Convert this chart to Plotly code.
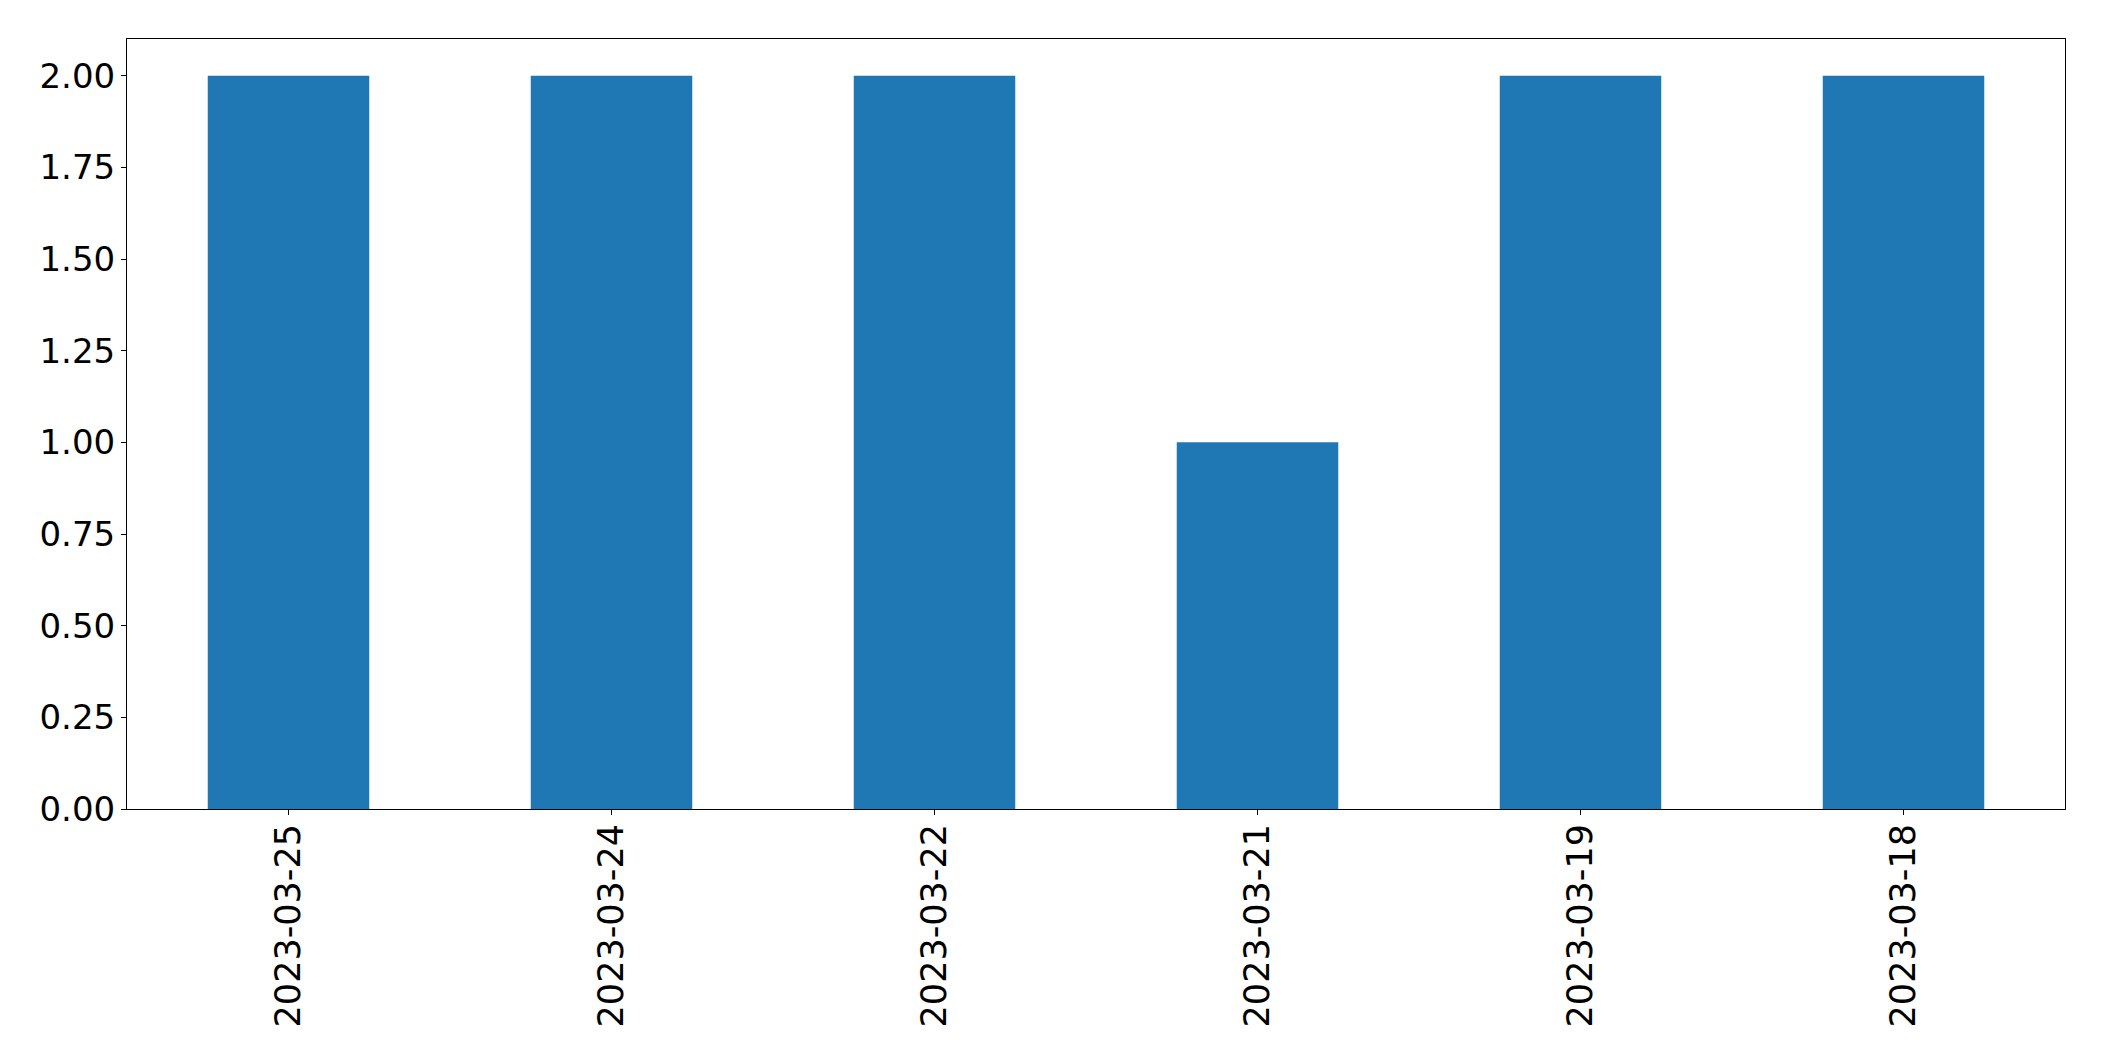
import plotly.graph_objects as go

dates = ["2023-03-25", "2023-03-24", "2023-03-22", "2023-03-21", "2023-03-19", "2023-03-18"]
counts = [2, 2, 2, 1, 2, 2]
y_ticks = [0, 0.25, 0.5, 0.75, 1.0, 1.25, 1.5, 1.75, 2.0]

fig = go.Figure(go.Bar(x=dates, y=counts, marker_color="#1f77b4", marker_line_width=0))

# page body has an 8px margin; compensate so the plot area lands at
# x 127..2065, y 39..809 in the window
fig.update_layout(
    width=2088, height=1045,
    margin=dict(l=119, r=31, t=31, b=244),
    paper_bgcolor="white", plot_bgcolor="white",
    bargap=0.5, showlegend=False,
    font=dict(family="DejaVu Sans", size=33, color="black"),
)
fig.update_xaxes(
    type="category", range=[-0.5, 5.5], tickangle=-90,
    tickfont=dict(size=35),
    showline=True, mirror=True, linecolor="black", linewidth=1,
    ticks="outside", ticklen=5, tickcolor="black", showgrid=False,
    ticklabelstandoff=-5,
)
fig.update_yaxes(
    range=[0, 2.1], tickvals=y_ticks, tickformat=".2f",
    tickfont=dict(size=34),
    showline=True, mirror=True, linecolor="black", linewidth=1,
    ticks="outside", ticklen=5, tickcolor="black", showgrid=False, zeroline=False,
    ticklabelstandoff=-1,
)
fig.write_html("out.html")
